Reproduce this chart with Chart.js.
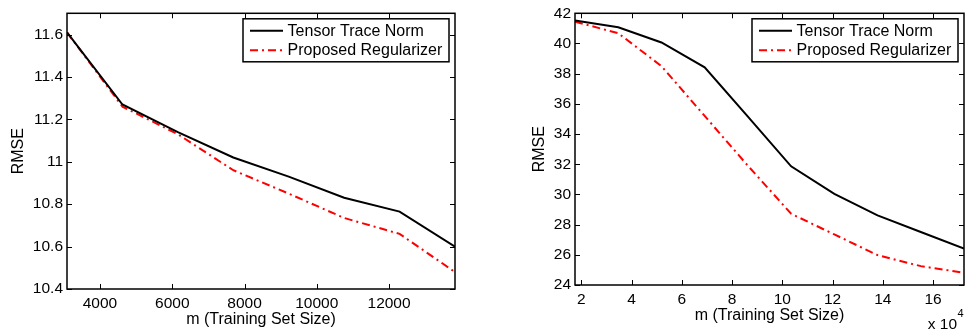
<!DOCTYPE html>
<html>
<head>
<meta charset="utf-8">
<script src="https://cdn.jsdelivr.net/npm/chart.js@4.4.1/dist/chart.umd.min.js"></script>
<style>
  body { margin: 0; background: #fff; }
  #wrap { position: relative; width: 965px; height: 329px; overflow: hidden; }
  canvas { position: absolute; top: 0; }
  #leftChart { left: 0; }
  #rightChart { left: 480px; }
</style>
</head>
<body>
<div id="wrap">
  <canvas id="leftChart" width="480" height="329"></canvas>
  <canvas id="rightChart" width="485" height="329"></canvas>
</div>
<script>
// DATA
const seriesNames = ["Tensor Trace Norm", "Proposed Regularizer"];

// left panel, m in samples
const leftSizes = [3087, 4621, 6155, 7689, 9223, 10757, 12291, 13825];
const leftTraceNorm = [11.61, 11.27, 11.14, 11.02, 10.93, 10.83, 10.765, 10.6];
const leftProposed = [11.61, 11.26, 11.13, 10.96, 10.85, 10.735, 10.66, 10.48];
const leftXTicks = [4000, 6000, 8000, 10000, 12000];
const leftYTicks = [10.4, 10.6, 10.8, 11, 11.2, 11.4, 11.6];

// right panel, m in units of 10^4
const rightSizes = [1.75, 3.47, 5.19, 6.91, 8.63, 10.35, 12.07, 13.79, 15.51, 17.23];
const rightTraceNorm = [41.52, 41.08, 40.07, 38.42, 35.15, 31.86, 30.04, 28.61, 27.51, 26.42];
const rightProposed = [41.45, 40.68, 38.5, 35.2, 31.9, 28.72, 27.35, 25.98, 25.25, 24.81];
const rightXTicks = [2, 4, 6, 8, 10, 12, 14, 16];
const rightYTicks = [24, 26, 28, 30, 32, 34, 36, 38, 40, 42];

const xTitle = "m (Training Set Size)";
const yTitle = "RMSE";

Chart.defaults.color = "#000";
Chart.defaults.font.family = "'Liberation Sans', Arial, sans-serif";

function toPoints(xs, ys) {
  return xs.map((x, i) => ({ x: x, y: ys[i] }));
}

//BOX, INWARD TICKS, LEGEND
const framePlugin = {
  id: "frame",
  afterDatasetsDraw(chart, args, opts) {
    const { ctx, chartArea: a, scales } = chart;
    ctx.save();
    ctx.strokeStyle = "#000";
    ctx.lineWidth = 1;
    ctx.beginPath();
    scales.x.ticks.forEach((t) => {
      const px = Math.round(scales.x.getPixelForValue(t.value)) + 0.5;
      ctx.moveTo(px, a.bottom);
      ctx.lineTo(px, a.bottom - 5);
      ctx.moveTo(px, a.top);
      ctx.lineTo(px, a.top + 5);
    });
    scales.y.ticks.forEach((t) => {
      const py = Math.round(scales.y.getPixelForValue(t.value)) + 0.5;
      ctx.moveTo(a.left, py);
      ctx.lineTo(a.left + 5, py);
      ctx.moveTo(a.right, py);
      ctx.lineTo(a.right - 5, py);
    });
    ctx.stroke();

    ctx.lineWidth = 1.5;
    ctx.strokeRect(a.left, a.top, a.right - a.left, a.bottom - a.top);

    // legend
    const boxW = 206;
    const boxH = 43;
    const boxX = a.right - 6 - boxW;
    const boxY = a.top + 5.5;
    ctx.fillStyle = "#fff";
    ctx.fillRect(boxX, boxY, boxW, boxH);
    ctx.lineWidth = 1.5;
    ctx.strokeRect(boxX, boxY, boxW, boxH);
    ctx.font = "16px 'Liberation Sans', Arial, sans-serif";
    ctx.textBaseline = "middle";
    ctx.textAlign = "left";
    chart.data.datasets.forEach((ds, i) => {
      const rowY = boxY + 12 + i * 19.4;
      ctx.beginPath();
      ctx.strokeStyle = ds.borderColor;
      ctx.lineWidth = ds.borderWidth;
      ctx.setLineDash(ds.borderDash || []);
      ctx.moveTo(boxX + 7, rowY);
      ctx.lineTo(boxX + 40, rowY);
      ctx.stroke();
      ctx.setLineDash([]);
      ctx.fillStyle = "#000";
      ctx.fillText(ds.label, boxX + 44.6, rowY + 0.5);
    });

    // axis multiplier under the x axis
    if (opts.exponent) {
      ctx.fillStyle = "#000";
      ctx.textBaseline = "alphabetic";
      ctx.textAlign = "right";
      ctx.font = "15.5px 'Liberation Sans', Arial, sans-serif";
      ctx.fillText("x 10", a.right - 7, 328.5);
      ctx.textAlign = "left";
      ctx.font = "11px 'Liberation Sans', Arial, sans-serif";
      ctx.fillText(opts.exponent, a.right - 6.5, 317);
    }
    ctx.restore();
  },
};

//CHART
function makeChart(canvas, cfg) {
  return new Chart(canvas, {
    type: "line",
    data: {
      datasets: [
        {
          label: seriesNames[0],
          data: toPoints(cfg.sizes, cfg.traceNorm),
          borderColor: "#000",
          borderWidth: 2,
          pointRadius: 0,
          tension: 0,
        },
        {
          label: seriesNames[1],
          data: toPoints(cfg.sizes, cfg.proposed),
          borderColor: "#ff0000",
          borderWidth: 2,
          borderDash: [8, 4, 2, 4],
          pointRadius: 0,
          tension: 0,
        },
      ],
    },
    options: {
      responsive: false,
      animation: false,
      devicePixelRatio: 1,
      layout: { padding: { top: 12, right: cfg.padRight, bottom: 0, left: 0 } },
      plugins: {
        legend: { display: false },
        tooltip: { enabled: false },
        frame: { exponent: cfg.exponent },
      },
      scales: {
        x: {
          type: "linear",
          min: cfg.sizes[0],
          max: cfg.sizes[cfg.sizes.length - 1],
          grid: { display: false, drawTicks: false },
          border: { display: false },
          afterBuildTicks: (scale) => {
            scale.ticks = cfg.xTicks.map((v) => ({ value: v }));
          },
          afterFit: (scale) => {
            scale.height = cfg.xHeight;
          },
          ticks: {
            padding: 5,
            maxRotation: 0,
            font: { size: 15.5 },
            callback: (v) => String(v),
          },
          title: {
            display: true,
            text: xTitle,
            font: { size: 16 },
            padding: { top: 0, bottom: cfg.xTitlePad },
          },
        },
        y: {
          type: "linear",
          min: cfg.yMin,
          max: cfg.yMax,
          grid: { display: false, drawTicks: false },
          border: { display: false },
          afterBuildTicks: (scale) => {
            scale.ticks = cfg.yTicks.map((v) => ({ value: v }));
          },
          afterFit: (scale) => {
            scale.width = cfg.yWidth;
          },
          ticks: {
            padding: 4,
            font: { size: 15.5 },
            callback: (v) => String(v),
          },
          title: {
            display: true,
            text: yTitle,
            font: { size: 16 },
            padding: { top: cfg.yTitlePad, bottom: 0 },
          },
        },
      },
    },
    plugins: [framePlugin],
  });
}

makeChart(document.querySelector("#leftChart"), {
  sizes: leftSizes,
  traceNorm: leftTraceNorm,
  proposed: leftProposed,
  xTicks: leftXTicks,
  yTicks: leftYTicks,
  yMin: 10.4,
  yMax: 11.7,
  yWidth: 67,
  xHeight: 40,
  padRight: 25,
  yTitlePad: 9,
  xTitlePad: 0,
  exponent: null,
});

makeChart(document.querySelector("#rightChart"), {
  sizes: rightSizes,
  traceNorm: rightTraceNorm,
  proposed: rightProposed,
  xTicks: rightXTicks,
  yTicks: rightYTicks,
  yMin: 24,
  yMax: 42,
  yWidth: 95,
  xHeight: 44,
  padRight: 1,
  yTitlePad: 50,
  xTitlePad: 4,
  exponent: "4",
});
</script>
</body>
</html>
